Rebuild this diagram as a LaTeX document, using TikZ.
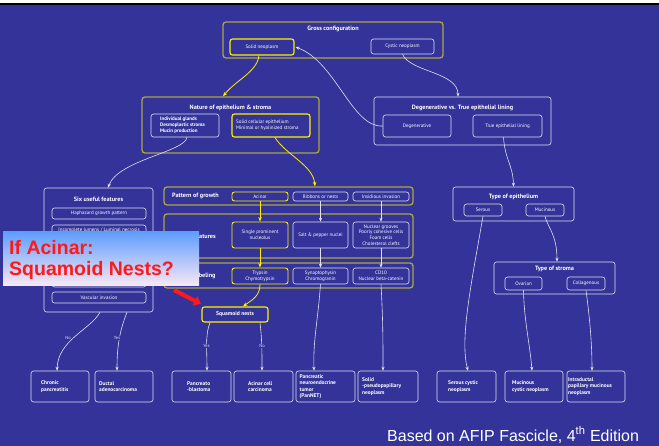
\documentclass[tikz,border=0pt]{standalone}
\usepackage{fontspec}
\setmainfont{PT Sans}
\newfontfamily\arialf{Liberation Sans}
\usetikzlibrary{arrows.meta}
\definecolor{bgblue}{RGB}{51,51,153}
\definecolor{olivey}{RGB}{172,166,70}
\definecolor{yel}{RGB}{255,240,0}
\definecolor{wline}{RGB}{225,225,242}
\definecolor{redtxt}{RGB}{255,25,25}
\begin{document}
\begin{tikzpicture}[x=1pt,y=-1pt,
  wbox/.style={draw=wline, line width=0.6pt, rounded corners=2.5pt, inner sep=0pt, align=center, text=white, font=\fontsize{5}{6}\selectfont},
  ybox/.style={wbox, draw=yel, line width=1.1pt},
  obox/.style={draw=olivey, line width=1.3pt, rounded corners=3pt, inner sep=0pt},
  ttl/.style={font=\fontsize{6.2}{7}\bfseries\selectfont, text=white, inner sep=0pt},
  btxt/.style={font=\fontsize{5.4}{6.5}\bfseries\selectfont, text=white, align=left, inner sep=0pt},
  lab/.style={font=\fontsize{4.5}{5}\selectfont, text=wline, fill=bgblue, inner sep=0.6pt},
  warr/.style={draw=wline, line width=0.6pt, -{Stealth[length=4pt,width=3.2pt]}},
  yarr/.style={draw=yel, line width=0.8pt, -{Stealth[length=4.5pt,width=3.6pt]}}
]
\useasboundingbox (0,0) rectangle (659,446);
\fill[bgblue] (0,0) rectangle (659,446);
\fill[white] (0,0) rectangle (659,3);
\fill[black] (0,3) rectangle (659,5.5);

% Gross configuration
\node[obox, minimum width=220pt, minimum height=36pt] (gross) at (333,40) {};
\node[ttl] (grosst) at (333,29) {Gross configuration};
\node[ybox, minimum width=64pt, minimum height=16pt] (solid) at (262,47) {Solid neoplasm};
\node[wbox, minimum width=63pt, minimum height=15pt] (cystic) at (402.5,46.5) {Cystic neoplasm};

% Nature of epithelium
\node[obox, minimum width=177pt, minimum height=56pt] (nature) at (230.5,125) {};
\node[ttl] (naturet) at (230.5,108) {Nature of epithelium \& stroma};
\node[wbox, minimum width=68pt, minimum height=23pt] (natL) at (185,125.5) {};
\node[btxt, font=\fontsize{5}{6}\bfseries\selectfont, anchor=west] (natLt) at (160,125.5) {Individual glands\\Desmoplastic stroma\\Mucin production};
\node[ybox, minimum width=78pt, minimum height=23pt] (natR) at (271,125.5) {};
\node[btxt, font=\fontsize{5}{6.3}\selectfont, anchor=west] (natRt) at (236,125.5) {Solid cellular epithelium\\Minimal or hyalinized stroma};

% Degenerative vs true
\node[wbox, minimum width=177pt, minimum height=48pt] (degen) at (462.5,121) {};
\node[ttl] (degent) at (462.5,108) {Degenerative vs. True epithelial lining};
\node[wbox, minimum width=68pt, minimum height=22pt] (degI) at (417,126) {Degenerative};
\node[wbox, minimum width=69pt, minimum height=22pt] (trueI) at (507.5,126) {True epithelial lining};

% Six useful features
\node[wbox, minimum width=109pt, minimum height=124pt] (six) at (98.5,250) {};
\node[ttl] (sixt) at (98.5,199) {Six useful features};
\node[wbox, minimum width=94pt, minimum height=11pt] (f1) at (99,213.5) {Haphazard growth pattern};
\node[wbox, minimum width=94pt, minimum height=11pt] (f2) at (99,230.5) {Incomplete lumens / Luminal necrosis};
\node[wbox, minimum width=94pt, minimum height=11pt] (f3) at (99,247.5) {};
\node[wbox, minimum width=94pt, minimum height=11pt] (f4) at (99,264.5) {};
\node[wbox, minimum width=94pt, minimum height=11pt] (f5) at (99,281.5) {};
\node[wbox, minimum width=94pt, minimum height=11pt] (f6) at (99,297.5) {Vascular invasion};

% Pattern of growth
\node[obox, minimum width=249pt, minimum height=18pt] (pattern) at (288.5,196) {};
\node[ttl, anchor=west] (patternt) at (172,196) {Pattern of growth};
\node[ybox, line width=0.9pt, minimum width=56pt, minimum height=9pt] (acinar) at (260,196.5) {Acinar};
\node[wbox, minimum width=55pt, minimum height=9pt] (ribbons) at (320.5,196.5) {Ribbons or nests};
\node[wbox, minimum width=56pt, minimum height=9pt] (insid) at (381,196.5) {Insidious invasion};

% Features
\node[obox, minimum width=249pt, minimum height=44pt] (feat) at (288.5,236) {};
\node[ttl, anchor=west] (featt) at (172,236) {Nuclear features};
\node[ybox, line width=0.9pt, minimum width=56pt, minimum height=26pt] (single) at (260,235) {Single prominent\\nucleolus};
\node[wbox, minimum width=55pt, minimum height=26pt] (salt) at (320.5,235) {Salt \& pepper nuclei};
\node[wbox, minimum width=56pt, minimum height=26pt, font=\fontsize{5}{5.6}\selectfont] (grooves) at (381,235) {Nuclear grooves\\Poorly cohesive cells\\Foam cells\\Cholesterol clefts};

% Immunolabeling
\node[obox, minimum width=249pt, minimum height=25pt] (immuno) at (288.5,275.5) {};
\node[ttl, anchor=west] (immunot) at (172,276) {Immunolabeling};
\node[ybox, line width=0.9pt, minimum width=56pt, minimum height=16pt] (trypsin) at (260,276) {Trypsin\\Chymotrypsin};
\node[wbox, minimum width=55pt, minimum height=16pt] (synapto) at (320.5,276) {Synaptophysin\\Chromogranin};
\node[wbox, minimum width=56pt, minimum height=16pt] (cd10) at (381,276) {CD10\\Nuclear beta-catenin};

% Squamoid nests
\node[ybox, minimum width=66pt, minimum height=15pt, font=\fontsize{5.6}{6}\bfseries\selectfont] (squamoid) at (235,314.5) {Squamoid nests};

% Type of epithelium / stroma
\node[wbox, minimum width=121pt, minimum height=34pt] (typeepi) at (513.5,204) {};
\node[ttl] (typeepit) at (513.5,196.5) {Type of epithelium};
\node[wbox, minimum width=38pt, minimum height=12pt] (serousI) at (483,210) {Serous};
\node[wbox, minimum width=38pt, minimum height=12pt] (mucinousI) at (545,210) {Mucinous};
\node[wbox, minimum width=121pt, minimum height=32pt] (stroma) at (554.5,278) {};
\node[ttl] (stromat) at (554.5,269) {Type of stroma};
\node[wbox, minimum width=37pt, minimum height=13pt] (ovarian) at (523.5,283.5) {Ovarian};
\node[wbox, minimum width=38pt, minimum height=13pt] (collag) at (586,283.5) {Collagenous};

% Bottom row
\node[wbox, minimum width=58pt, minimum height=31pt] (chronic) at (60,386.5) {};
\node[btxt, anchor=west] (chronict) at (41,386.5) {Chronic\\pancreatitis};
\node[wbox, minimum width=58pt, minimum height=31pt] (ductal) at (124,386.5) {};
\node[btxt, anchor=west] (ductalt) at (99,386.5) {Ductal\\adenocarcinoma};
\node[wbox, minimum width=59pt, minimum height=31pt] (pancreato) at (201.5,386.5) {};
\node[btxt, anchor=west] (pancreatot) at (187,386.5) {Pancreato\\-blastoma};
\node[wbox, minimum width=59pt, minimum height=31pt] (acinarcc) at (263.5,386.5) {};
\node[btxt, anchor=west] (acinarcct) at (248,386.5) {Acinar cell\\carcinoma};
\node[wbox, minimum width=59pt, minimum height=31pt] (pannet) at (325.5,386.5) {};
\node[btxt, anchor=west] (pannett) at (299.5,386.5) {Pancreatic\\neuroendocrine\\tumor\\(PanNET)};
\node[wbox, minimum width=60pt, minimum height=31pt] (spn) at (388,386.5) {};
\node[btxt, anchor=west] (spnt) at (362,386.5) {Solid\\-pseudopapillary\\neoplasm};
\node[wbox, minimum width=59pt, minimum height=31pt] (serouscn) at (466.5,386.5) {};
\node[btxt, anchor=west] (serouscnt) at (448,386.5) {Serous cystic\\neoplasm};
\node[wbox, minimum width=58pt, minimum height=31pt] (mcn) at (534,386.5) {};
\node[btxt, anchor=west] (mcnt) at (512,386.5) {Mucinous\\cystic neoplasm};
\node[wbox, minimum width=58pt, minimum height=31pt] (ipmn) at (596,386.5) {};
\node[btxt, anchor=west] (ipmnt) at (568,386.5) {Intraductal\\papillary mucinous\\neoplasm};

% Connectors
\draw[yarr] ([xshift=-3pt]solid.south) .. controls (257,72) and (236,80) .. ([xshift=-7.5pt]nature.north);
\draw[warr] (degI.west) .. controls (352,128) and (336,62) .. ([xshift=1pt]solid.east);
\draw[warr] (cystic.south) .. controls (410,72) and (458,72) .. ([xshift=-4.5pt]degen.north);
\draw[warr] ([xshift=2pt]natL.south) .. controls (185,152) and (118,160) .. ([xshift=9.5pt]six.north);
\draw[yarr] ([xshift=4pt]natR.south) .. controls (286,155) and (313,165) .. ([xshift=26.5pt]pattern.north);
\draw[warr] ([xshift=-4pt]trueI.south) .. controls (505,160) and (513,165) .. (typeepi.north);

\draw[yarr] (acinar.south) -- (single.north);
\draw[warr] (ribbons.south) -- (salt.north);
\draw[warr] (insid.south) -- (grooves.north);
\draw[yarr] (single.south) -- (trypsin.north);
\draw[warr] (salt.south) -- (synapto.north);
\draw[warr] (grooves.south) -- (cd10.north);

\draw[yarr] (trypsin.south) .. controls (260,296) and (252,300) .. ([xshift=8pt]squamoid.north);
\draw[warr] (synapto.south) .. controls (318,320) and (313,340) .. ([xshift=-11.5pt]pannet.north);
\draw[warr] (cd10.south) .. controls (383,320) and (383,340) .. ([xshift=-5pt]spn.north);

\draw[warr] ([xshift=1.5pt]six.south) .. controls (90,330) and (58,340) .. ([xshift=-3pt]chronic.north);
\draw[warr] ([xshift=28.5pt]six.south) .. controls (120,330) and (117,345) .. ([xshift=-7pt]ductal.north);
\draw[warr] ([xshift=-25pt]squamoid.south) .. controls (205,335) and (207,350) .. ([xshift=5.5pt]pancreato.north);
\draw[warr] ([xshift=25pt]squamoid.south) .. controls (262,340) and (262,350) .. ([xshift=-1.5pt]acinarcc.north);

\draw[warr] (serousI.south) .. controls (470,290) and (460,340) .. ([xshift=1.5pt]serouscn.north);
\draw[warr] (mucinousI.south) .. controls (548,228) and (557,235) .. ([xshift=2.5pt]stroma.north);
\draw[warr] (ovarian.south) .. controls (524,320) and (530,345) .. ([xshift=-2pt]mcn.north);
\draw[warr] (collag.south) .. controls (590,320) and (592,345) .. ([xshift=-4pt]ipmn.north);

\node[lab] (lno1) at (68,338) {No};
\node[lab] (lyes1) at (117,338) {Yes};
\node[lab] (lyes2) at (206.5,346) {Yes};
\node[lab] (lno2) at (262,346) {No};

% Callout
\node[inner sep=0pt, minimum width=196pt, minimum height=54pt, top color={rgb,255:red,95;green,158;blue,252}, bottom color={rgb,255:red,250;green,232;blue,245}] (callout) at (101,259) {};
\node[font=\arialf\fontsize{19.5}{21}\bfseries\selectfont, text=redtxt, align=left, anchor=west, inner sep=0pt] (calloutt) at (9,260) {If Acinar:\\Squamoid Nests?};
\coordinate (ra1) at (174,290);
\coordinate (ra2) at (201,304);
\draw[redtxt, line width=4pt, -{Triangle[length=7pt,width=10pt]}] (ra1) -- (ra2);

% Footer
\node[font=\arialf\fontsize{16}{18}\selectfont, text=white, anchor=base west, inner sep=0pt] (footer) at (387,441) {Based on AFIP Fascicle, 4\textsuperscript{th} Edition};
\end{tikzpicture}
\end{document}
